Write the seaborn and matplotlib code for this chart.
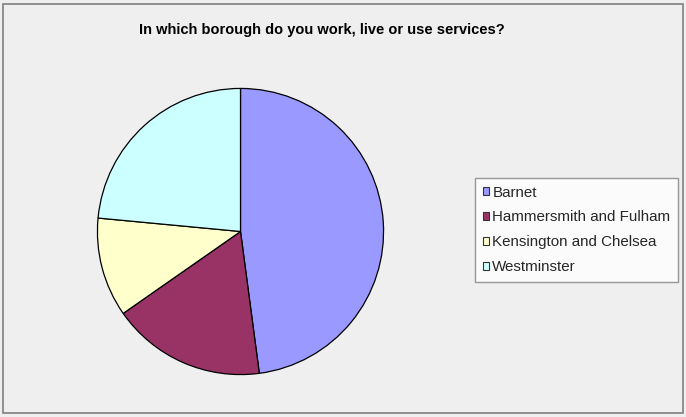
import matplotlib
matplotlib.use("Agg")
import matplotlib.pyplot as plt
import seaborn as sns
from matplotlib.patches import Patch, Rectangle

boroughs = ["Barnet", "Hammersmith and Fulham", "Kensington and Chelsea", "Westminster"]
share = [47.9, 17.4, 11.2, 23.5]
colours = ["#9999ff", "#993366", "#ffffcc", "#ccffff"]

sns.set_style("white")
plt.rcParams["font.family"] = ["Liberation Sans", "DejaVu Sans"]

fig = plt.figure(figsize=(6.86, 4.17), dpi=100)
fig.patch.set_facecolor("#efefef")
fig.patches.append(Rectangle((3 / 686, 4 / 417), 680 / 686, 409 / 417, transform=fig.transFigure,
                             fill=False, edgecolor="#808080", linewidth=1.2))

ax = fig.add_axes([96 / 686, 41 / 417, 289 / 686, 289 / 417])
ax.pie(share, colors=colours, startangle=90, counterclock=False,
       wedgeprops=dict(edgecolor="black", linewidth=0.9))
ax.set_xlim(-1.01, 1.01)
ax.set_ylim(-1.01, 1.01)
ax.set_aspect("equal")

fig.text(322 / 686, 1 - 30 / 417, "In which borough do you work, live or use services?",
         ha="center", va="center", fontsize=10.5, fontweight="bold", color="black")

handles = [Patch(facecolor=c, edgecolor="#333333", linewidth=0.8) for c in colours]
leg = fig.legend(handles, boroughs, loc="upper left", bbox_to_anchor=(475 / 686, 1 - 178 / 417),
                 fontsize=10.9, frameon=True, fancybox=False, handlelength=0.45, handleheight=0.45,
                 handletextpad=0.2, labelspacing=0.72, borderpad=0.5, borderaxespad=0)
leg.get_frame().set_edgecolor("#808080")
leg.get_frame().set_facecolor("white")
leg.get_frame().set_linewidth(1.0)

fig.savefig("out.png", dpi=100, facecolor=fig.get_facecolor())
